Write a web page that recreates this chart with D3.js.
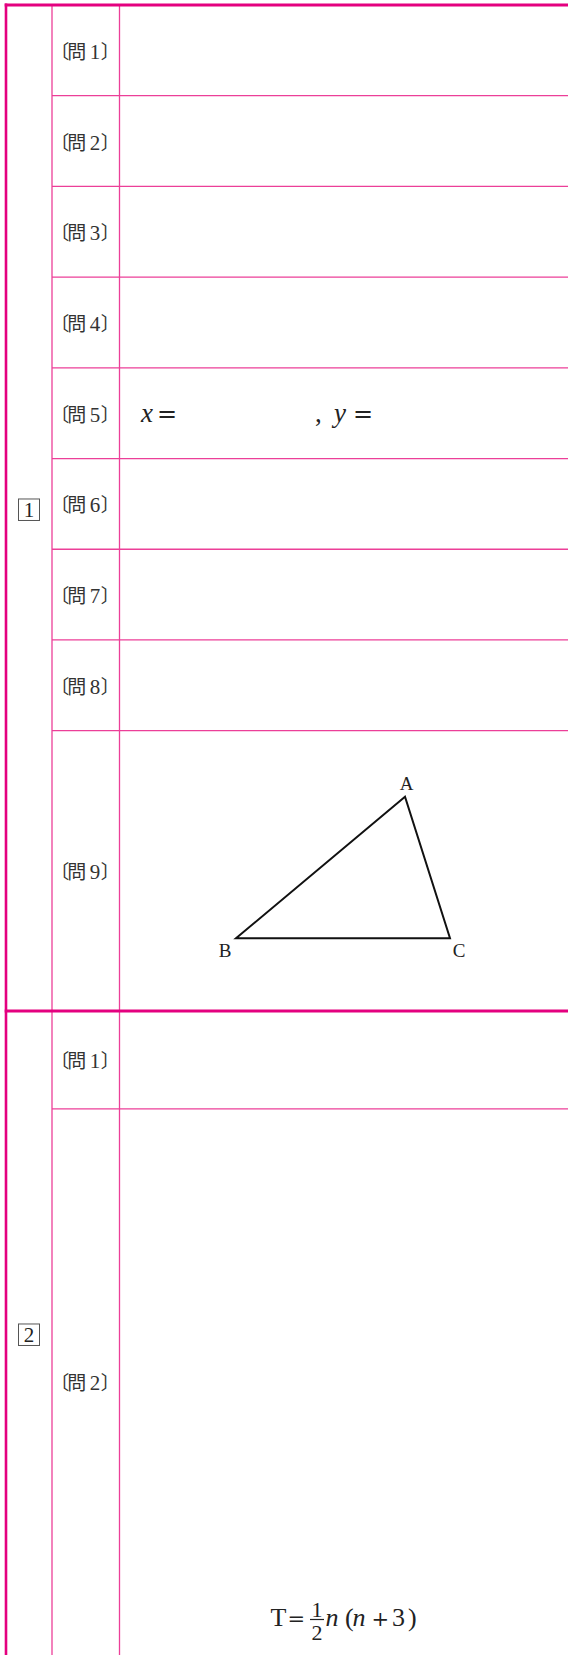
<!DOCTYPE html>
<html lang="ja">
<head>
<meta charset="utf-8">
<title>解答用紙</title>
<script src="https://d3js.org/d3.v7.min.js"></script>
<style>
  body { margin: 0; background: #fff; }
  svg { display: block; }
</style>
</head>
<body>
<script>
// sheet size
var w = 568, h = 1655;

// sections (boxed numbers) and the questions in each, with row heights in row units
var sectionLabels = ["1", "2"];
var qSection = [0, 0, 0, 0, 0, 0, 0, 0, 0, 1, 1];
var qNumbers  = ["1", "2", "3", "4", "5", "6", "7", "8", "9", "1", "2"];
var qUnits    = [1, 1, 1, 1, 1, 1, 1, 1, 3.09, 1.08, 6.02];

// triangle ABC in figure units
var triNames = ["A", "B", "C"];
var triX = [169, 0, 214];
var triY = [142, 0, 0];

var thick = "#e4007f", thin = "#ec3f98";
var serif = "'Liberation Serif', 'DejaVu Serif', 'Noto Sans CJK JP', serif";
var opSerif = "'DejaVu Serif', serif";
var cjk = "'Noto Sans CJK JP', sans-serif";
var ink = "#333";

var svg = d3.select("body").append("svg")
  .attr("width", w).attr("height", h);

svg.append("rect").attr("width", w).attr("height", h).attr("fill", "#fff");

// vertical layout: cumulative row units -> pixels
var starts = [], acc = 0;
qUnits.forEach(function(u) { starts.push(acc); acc += u; });
var y = d3.scaleLinear().domain([0, acc]).range([5, h]);

// columns
var col0 = 6, col1 = 52, col2 = 119.5;

var rows = qNumbers.map(function(n, i) {
  return { sec: qSection[i], num: n, y0: y(starts[i]), y1: y(starts[i] + qUnits[i]) };
});

var secs = sectionLabels.map(function(s, k) {
  var r = rows.filter(function(d) { return d.sec === k; });
  return { label: s, y0: r[0].y0, y1: r[r.length - 1].y1 };
});

// thin row lines inside a section
svg.selectAll("line.row")
  .data(rows.filter(function(d, i) { return i < rows.length - 1 && rows[i + 1].sec === d.sec; }))
  .enter().append("line")
  .attr("class", "row")
  .attr("x1", col1).attr("x2", w)
  .attr("y1", function(d) { return d.y1; }).attr("y2", function(d) { return d.y1; })
  .attr("stroke", thin).attr("stroke-width", 1.3);

// thin column lines
svg.selectAll("line.col")
  .data([col1, col2])
  .enter().append("line")
  .attr("class", "col")
  .attr("x1", function(d) { return d; }).attr("x2", function(d) { return d; })
  .attr("y1", 5).attr("y2", h)
  .attr("stroke", thin).attr("stroke-width", 1.3);

// thick section lines
svg.selectAll("line.sec")
  .data(secs)
  .enter().append("line")
  .attr("class", "sec")
  .attr("x1", col0 - 1.3).attr("x2", w)
  .attr("y1", function(d) { return d.y0; }).attr("y2", function(d) { return d.y0; })
  .attr("stroke", thick).attr("stroke-width", 3);

svg.append("line")
  .attr("x1", col0).attr("x2", col0)
  .attr("y1", 3.5).attr("y2", h)
  .attr("stroke", thick).attr("stroke-width", 2.6);

// boxed section numbers
var sg = svg.selectAll("g.secnum").data(secs).enter().append("g")
  .attr("class", "secnum")
  .attr("transform", function(d) { return "translate(" + (col0 + col1) / 2 + "," + ((d.y0 + d.y1) / 2 + 2) + ")"; });
sg.append("rect")
  .attr("x", -10.5).attr("y", -11).attr("width", 21).attr("height", 21.5)
  .attr("fill", "none").attr("stroke", "#555").attr("stroke-width", 1);
sg.append("text")
  .attr("y", 7.5).attr("text-anchor", "middle")
  .attr("font-family", serif).attr("font-size", 21).attr("fill", "#222")
  .text(function(d) { return d.label; });

// question labels 〔問n〕
var qx = (col1 + col2) / 2;
var qg = svg.selectAll("g.q").data(rows).enter().append("g")
  .attr("class", "q")
  .attr("transform", function(d) { return "translate(" + qx + "," + ((d.y0 + d.y1) / 2 + 8.5) + ")"; });
qg.append("text").attr("x", -26).attr("text-anchor", "middle")
  .attr("font-family", cjk).attr("font-size", 19).attr("fill", ink).text("〔");
qg.append("text").attr("x", -9).attr("text-anchor", "middle")
  .attr("font-family", cjk).attr("font-size", 19).attr("fill", ink).text("問");
qg.append("text").attr("x", 9.3).attr("text-anchor", "middle")
  .attr("font-family", serif).attr("font-size", 21).attr("fill", ink)
  .text(function(d) { return d.num; });
qg.append("text").attr("x", 24.5).attr("text-anchor", "middle")
  .attr("font-family", cjk).attr("font-size", 19).attr("fill", ink).text("〕");

// 〔問5〕 answer template
var r5 = rows[4], b5 = (r5.y0 + r5.y1) / 2 + 9;
var mt = svg.append("text").attr("y", b5)
  .attr("font-family", serif).attr("font-size", 27).attr("fill", "#222");
mt.append("tspan").attr("x", 141).attr("font-style", "italic").text("x");
mt.append("tspan").attr("x", 157).attr("font-family", opSerif).attr("font-size", 24).text("=");
mt.append("tspan").attr("x", 315).text(",");
mt.append("tspan").attr("x", 334).attr("font-style", "italic").text("y");
mt.append("tspan").attr("x", 353).attr("font-family", opSerif).attr("font-size", 24).text("=");

// 〔問9〕 triangle
var tx = d3.scaleLinear().domain([0, 214]).range([236, 450]);
var ty = d3.scaleLinear().domain([0, 142]).range([938.3, 796.7]);
var pts = triNames.map(function(n, i) { return { name: n, x: tx(triX[i]), y: ty(triY[i]) }; });

svg.append("path")
  .attr("d", d3.line().x(function(d) { return d.x; }).y(function(d) { return d.y; })(pts) + "Z")
  .attr("fill", "none").attr("stroke", "#111").attr("stroke-width", 2)
  .attr("stroke-linejoin", "miter");

var labOff = { A: [1.5, -6.5], B: [-11, 18.5], C: [9, 18.5] };
svg.selectAll("text.vx").data(pts).enter().append("text")
  .attr("class", "vx")
  .attr("x", function(d) { return d.x + labOff[d.name][0]; })
  .attr("y", function(d) { return d.y + labOff[d.name][1]; })
  .attr("text-anchor", "middle")
  .attr("font-family", serif).attr("font-size", 19).attr("fill", "#222")
  .text(function(d) { return d.name; });

// 〔問2〕 formula T = 1/2 n(n+3)
var fb = 1625.7;
var ft = svg.append("text").attr("y", fb)
  .attr("font-family", serif).attr("font-size", 26).attr("fill", "#222");
ft.append("tspan").attr("x", 270.5).text("T");
ft.append("tspan").attr("x", 287.5).attr("font-family", opSerif).attr("font-size", 21).text("=");
ft.append("tspan").attr("x", 325.5).attr("font-style", "italic").text("n");
ft.append("tspan").attr("x", 345).text("(");
ft.append("tspan").attr("x", 352.5).attr("font-style", "italic").text("n");
ft.append("tspan").attr("x", 371.5).attr("font-family", opSerif).attr("font-size", 21).text("+");
ft.append("tspan").attr("x", 392).text("3");
ft.append("tspan").attr("x", 408).text(")");

svg.append("text").attr("x", 317).attr("y", 1617)
  .attr("text-anchor", "middle").attr("font-family", serif).attr("font-size", 22).attr("fill", "#222").text("1");
svg.append("line").attr("x1", 310).attr("x2", 324).attr("y1", 1619.5).attr("y2", 1619.5)
  .attr("stroke", "#222").attr("stroke-width", 1.2);
svg.append("text").attr("x", 317).attr("y", 1640)
  .attr("text-anchor", "middle").attr("font-family", serif).attr("font-size", 22).attr("fill", "#222").text("2");
</script>
</body>
</html>
